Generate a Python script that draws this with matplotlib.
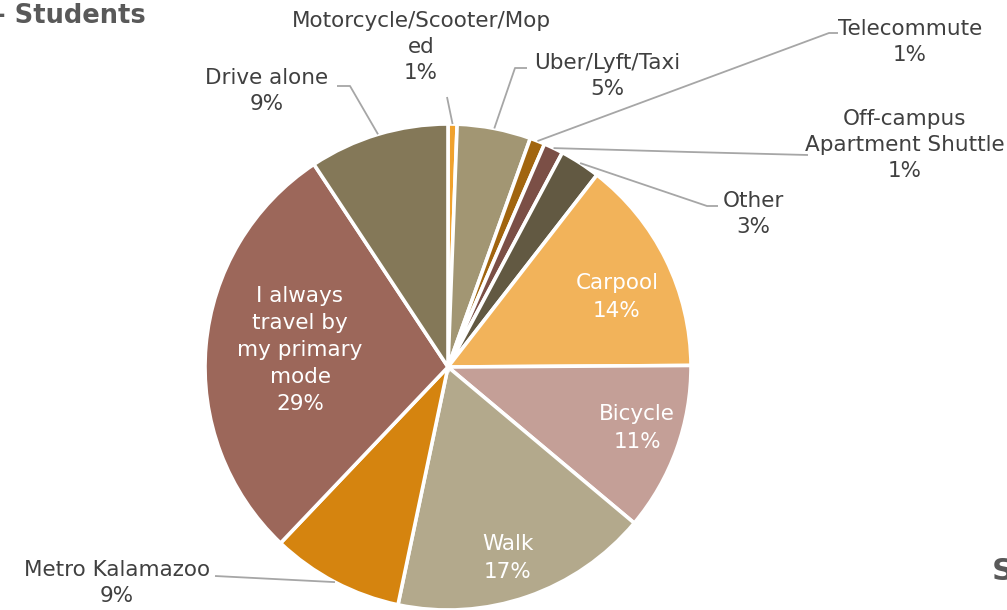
import numpy as np
import matplotlib.pyplot as plt

# Commute mode shares (students), clockwise from 12 o'clock
modes = [
    "Motorcycle/Scooter/Mop\ned",
    "Uber/Lyft/Taxi",
    "Telecommute",
    "Off-campus\nApartment Shuttle",
    "Other",
    "Carpool",
    "Bicycle",
    "Walk",
    "Metro Kalamazoo",
    "I always\ntravel by\nmy primary\nmode",
    "Drive alone",
]
shares = [0.6, 4.9, 1.0, 1.3, 2.7, 14.4, 11.2, 17.2, 8.8, 28.6, 9.3]
colors = [
    "#F0A22E", "#A29673", "#A1650F", "#7B4F46", "#625942", "#F2B35A",
    "#C49F97", "#B3A98C", "#D5840F", "#9C675A", "#847858",
]

# label placement in pixels (center of text)
label_px = [
    (421, 47), (607, 76), (910, 42), (905, 145), (753, 214), (617, 297),
    (637, 428), (508, 558), (117, 583), (300, 350), (267, 91),
]
inside = [False, False, False, False, False, True, True, True, False, True, False]
# elbow of the leader line (pixels), None -> straight line
elbow_px = [None, (515, 68), (829, 33), (690, 152), (707, 206), None, None, None,
            None, None, (350, 86)]
end_px = [(447, 97), (527, 68), (838, 33), (808, 155), (718, 206), None, None, None,
          (215, 576), None, (337, 86)]

W, H = 1007, 610
CX, CY, R = 448, 367, 243


def px2d(p):
    return ((p[0] - CX) / R, (CY - p[1]) / R)


fig = plt.figure(figsize=(W / 100, H / 100), dpi=100)
ax = fig.add_axes([0, 0, 1, 1])

wedges, _ = ax.pie(
    shares,
    colors=colors,
    startangle=90,
    counterclock=False,
    radius=1.0,
    wedgeprops=dict(edgecolor="white", linewidth=2.6),
)
# pie() resets the limits, so set them afterwards
ax.set_xlim(-CX / R, (W - CX) / R)
ax.set_ylim(-(H - CY) / R, CY / R)
ax.set_aspect("equal")
ax.axis("off")

text_color = "#404040"
line_color = "#A6A6A6"
fs = 15.5

for i, w in enumerate(wedges):
    txt = f"{modes[i]}\n{shares[i]:.0f}%"
    x, y = px2d(label_px[i])
    if inside[i]:
        ax.text(x, y, txt, ha="center", va="center", color="white",
                fontsize=fs, linespacing=1.45)
        continue
    ax.text(x, y, txt, ha="center", va="center", color=text_color,
            fontsize=fs, linespacing=1.4)
    mid = np.deg2rad((w.theta1 + w.theta2) / 2)
    pts = [(np.cos(mid) * 1.0, np.sin(mid) * 1.0)]
    if elbow_px[i] is not None:
        pts.append(px2d(elbow_px[i]))
    pts.append(px2d(end_px[i]))
    xs, ys = zip(*pts)
    ax.plot(xs, ys, color=line_color, linewidth=1.3, solid_capstyle="butt")

# slide fragments around the chart
ax.text(*px2d((146, 16)), "- Students", ha="right", va="center",
        fontsize=18.5, fontweight="bold", color="#595959")
ax.text(*px2d((992, 572)), "S", ha="left", va="center",
        fontsize=22, fontweight="bold", color="#595959")

fig.savefig("out.png", dpi=100)
